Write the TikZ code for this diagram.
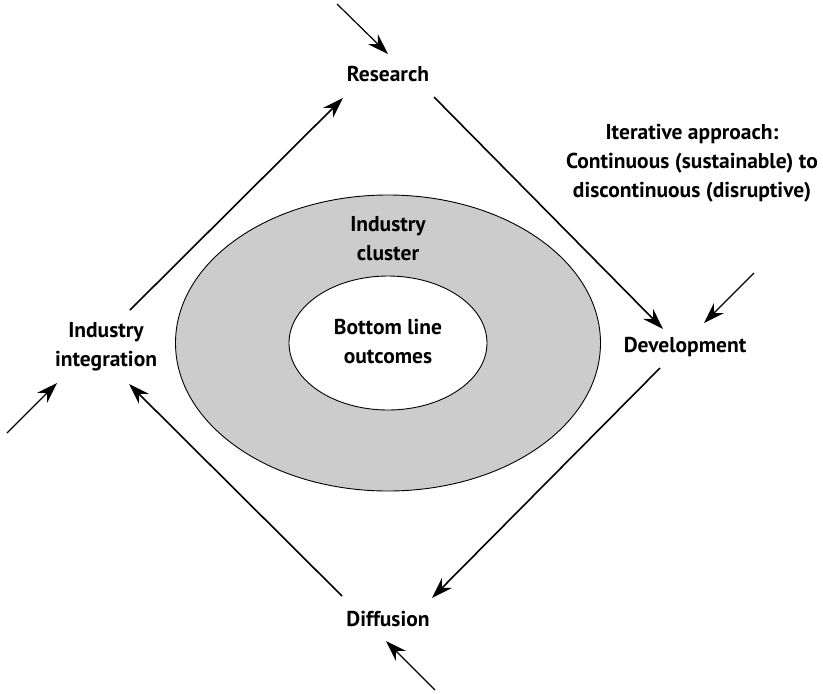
\documentclass[tikz,border=0pt]{standalone}
\usepackage{fontspec}
\setmainfont{PT Sans}
\usetikzlibrary{arrows.meta,calc,shapes.geometric}
\definecolor{clustergray}{HTML}{CCCCCC}
\tikzset{
  lbl/.style={font=\bfseries\fontsize{21.5}{29}\selectfont, align=center, inner sep=0pt},
  flow/.style={line width=1.6pt, -{Stealth[length=21pt,width=14pt]}},
  ext/.style={line width=1.2pt, -{Stealth[length=21pt,width=14pt]}},
  ring/.style={draw=black, line width=0.9pt}
}
\begin{document}
\begin{tikzpicture}[x=1pt,y=-1pt]
\useasboundingbox (0,0) rectangle (823,694);
% ellipses
\node[ring, ellipse, fill=clustergray, minimum width=425pt, minimum height=296pt, inner sep=0pt] (cluster) at (388,343) {};
\node[ring, ellipse, fill=white, minimum width=198pt, minimum height=134pt, inner sep=0pt] (outcomes) at (388,343) {};
\node[lbl] (clusterlbl) at (388,239) {Industry\\cluster};
\node[lbl] (outlbl) at (388,342) {Bottom line\\outcomes};
% stage labels
\node[lbl] (research) at (388,74) {Research};
\node[lbl] (development) at (685,347) {Development};
\node[lbl] (diffusion) at (388,619) {Diffusion};
\node[lbl] (integration) at (106,347) {Industry\\integration};
\node[lbl] (iterative) at (692,163) {Iterative approach:\\Continuous (sustainable) to\\discontinuous (disruptive)};
% cycle arrows
\draw[flow] ($(research.center)+(46,23)$) -- ($(development.center)+(-22,-18)$);
\draw[flow] ($(development.center)+(-25,21)$) -- ($(diffusion.center)+(44,-21)$);
\draw[flow] ($(diffusion.center)+(-46,-23)$) -- ($(integration.center)+(23,37)$);
\draw[flow] ($(integration.center)+(24,-37)$) -- ($(research.center)+(-45,24)$);
% external inputs
\coordinate (inR) at (337,4);
\coordinate (inD) at (754,273);
\coordinate (inI) at (7,433);
\coordinate (inF) at (435,690);
\draw[ext] (inR) -- ($(research.center)+(0,-20)$);
\draw[ext] (inD) -- ($(development.center)+(19,-24)$);
\draw[ext] (inI) -- ($(integration.center)+(-49,36)$);
\draw[ext] (inF) -- ($(diffusion.center)+(-2,22)$);
\end{tikzpicture}
\end{document}
